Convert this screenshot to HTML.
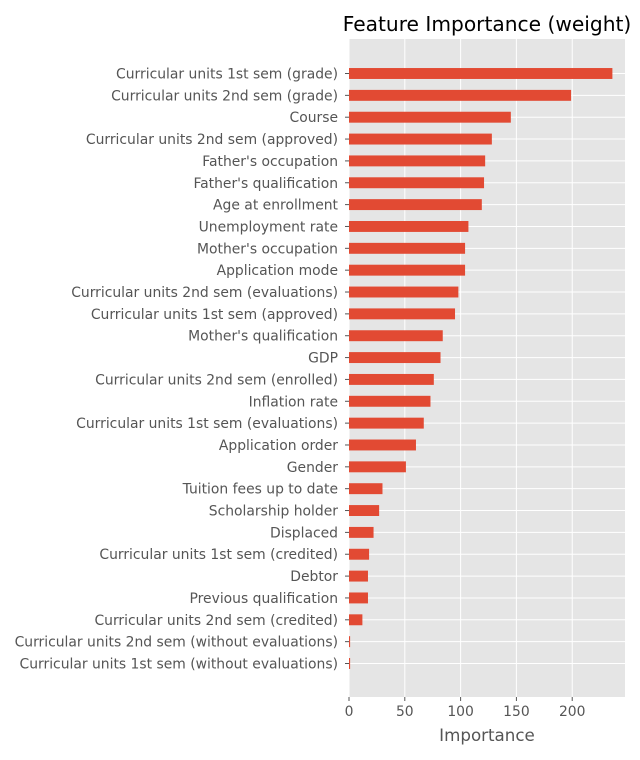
<!DOCTYPE html>
<html><head><meta charset="utf-8"><style>
body{margin:0;background:#fff;}
svg{display:block;font-family:"DejaVu Sans","Liberation Sans",sans-serif;}
</style></head><body>
<svg id="chart" width="640" height="760"></svg>
<script>
const categories=["Curricular units 1st sem (grade)","Curricular units 2nd sem (grade)","Course","Curricular units 2nd sem (approved)","Father's occupation","Father's qualification","Age at enrollment","Unemployment rate","Mother's occupation","Application mode","Curricular units 2nd sem (evaluations)","Curricular units 1st sem (approved)","Mother's qualification","GDP","Curricular units 2nd sem (enrolled)","Inflation rate","Curricular units 1st sem (evaluations)","Application order","Gender","Tuition fees up to date","Scholarship holder","Displaced","Curricular units 1st sem (credited)","Debtor","Previous qualification","Curricular units 2nd sem (credited)","Curricular units 2nd sem (without evaluations)","Curricular units 1st sem (without evaluations)"];
const values=[236,199,145,128,122,121,119,107,104,104,98,95,84,82,76,73,67,60,51,30,27,22,18,17,17,12,1,1];
const xTicks=[0,50,100,150,200];
const NS="http://www.w3.org/2000/svg";
const svg=document.getElementById('chart');
const L=349,R=625,T=39,B=697;
const xMax=247.3;
const n=categories.length;
const x=v=>L+v/xMax*(R-L);
const step=(663-73)/(n-1);
const y=i=>73.5+i*step;
function mk(tag,attrs,parent){const e=document.createElementNS(NS,tag);for(const k in attrs)e.setAttribute(k,attrs[k]);(parent||svg).appendChild(e);return e;}
const bg=mk('rect',{x:L,y:T,width:R-L,height:B-T,fill:'#e5e5e5'});


xTicks.forEach(t=>{
  const g=mk('line',{x1:x(t),x2:x(t),y1:T,y2:B,stroke:'#fff','stroke-width':1});
  
  
  const tk=mk('line',{x1:x(t),x2:x(t),y1:B,y2:B+4,stroke:'#555','stroke-width':1});
  
  
  const tl=mk('text',{x:x(t),y:B+19,'text-anchor':'middle','font-size':'13.9px',fill:'#555'});
  tl.textContent=t;
  
  
});
categories.forEach((c,i)=>{
  const g=mk('line',{x1:L,x2:R,y1:y(i),y2:y(i),stroke:'#fff','stroke-width':1});
  
  
});
categories.forEach((c,i)=>{
  const b=mk('rect',{x:L,y:y(i)-step*0.25,width:x(values[i])-L,height:step*0.5,fill:'#e24a33'});
  
  
  const tk=mk('line',{x1:L-4,x2:L,y1:y(i),y2:y(i),stroke:'#555','stroke-width':1});
  
  
  const tl=mk('text',{x:L-11,y:y(i)+5,'text-anchor':'end','font-size':'13.9px',fill:'#555'});
  tl.textContent=c;
  
  
});
const title=mk('text',{x:487,y:31,'text-anchor':'middle','font-size':'20.2px',fill:'#000'});
title.textContent='Feature Importance (weight)';


const xl=mk('text',{x:(L+R)/2,y:741,'text-anchor':'middle','font-size':'16.7px',fill:'#555'});
xl.textContent='Importance';


</script>
</body></html>
